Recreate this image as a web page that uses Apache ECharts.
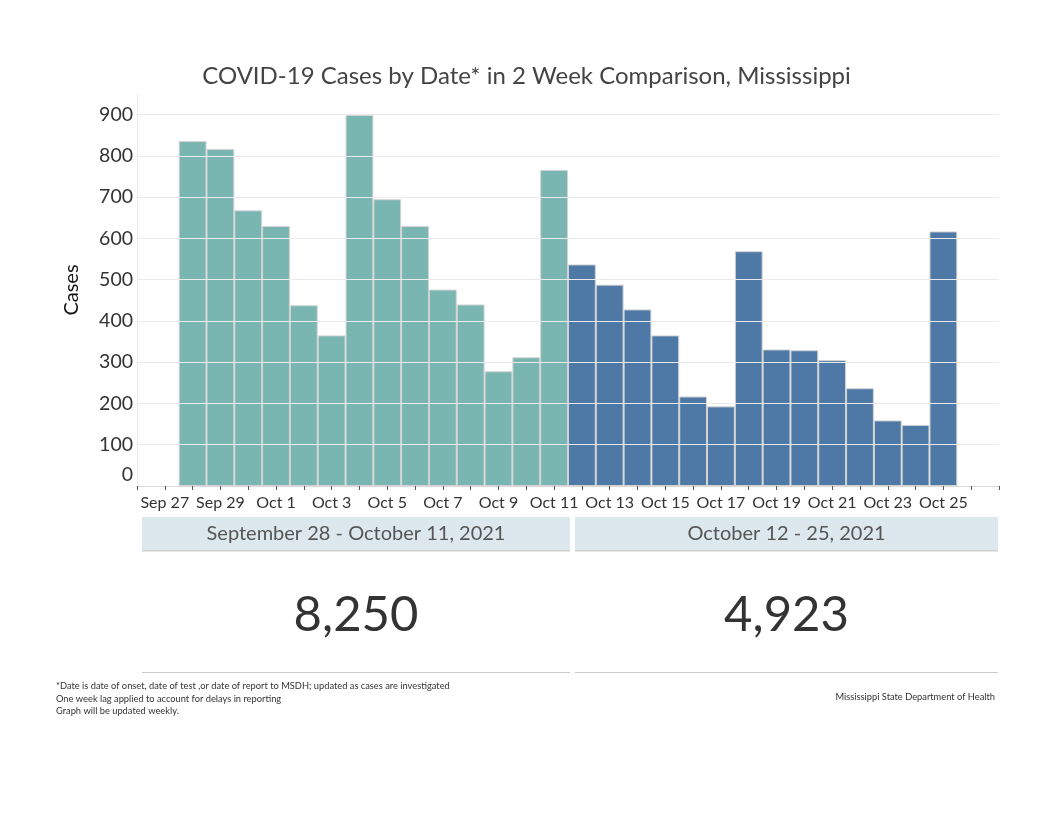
<!DOCTYPE html>
<html>
<head>
<meta charset="utf-8">
<script src="https://cdn.jsdelivr.net/npm/echarts@6/dist/echarts.min.js"></script>
<style>
html,body{margin:0;padding:0;background:#fff;}
#chart{width:1053px;height:813px;}
</style>
</head>
<body>
<div id="chart"></div>
<script>
// Axis categories (daily)
var categories = ['Sep 26','Sep 27','Sep 28','Sep 29','Sep 30','Oct 1','Oct 2','Oct 3','Oct 4','Oct 5','Oct 6','Oct 7','Oct 8','Oct 9','Oct 10','Oct 11','Oct 12','Oct 13','Oct 14','Oct 15','Oct 16','Oct 17','Oct 18','Oct 19','Oct 20','Oct 21','Oct 22','Oct 23','Oct 24','Oct 25','Oct 26','Oct 27'];
// Period 1: Sep 28 - Oct 11
var dates1 = ['Sep 28','Sep 29','Sep 30','Oct 1','Oct 2','Oct 3','Oct 4','Oct 5','Oct 6','Oct 7','Oct 8','Oct 9','Oct 10','Oct 11'];
var cases1 = [836, 817, 668, 630, 438, 365, 899, 695, 630, 476, 440, 278, 312, 766];
// Period 2: Oct 12 - Oct 25
var dates2 = ['Oct 12','Oct 13','Oct 14','Oct 15','Oct 16','Oct 17','Oct 18','Oct 19','Oct 20','Oct 21','Oct 22','Oct 23','Oct 24','Oct 25'];
var cases2 = [537, 488, 428, 365, 217, 193, 569, 331, 329, 305, 237, 159, 148, 617];
var yTicks = [100, 200, 300, 400, 500, 600, 700, 800, 900];
var periodLabels = ['September 28 - October 11, 2021', 'October 12 - 25, 2021'];

function sum(a){return a.reduce(function(s,v){return s+v;},0);}
function fmt(n){return n.toString().replace(/\B(?=(\d{3})+(?!\d))/g, ',');}
function toSeries(dates, vals){
  return categories.map(function(c){
    var i = dates.indexOf(c);
    return i >= 0 ? vals[i] : null;
  });
}

var FONT = 'Lato, "Open Sans", sans-serif';
var chart = echarts.init(document.getElementById('chart'), null, {renderer:'canvas'});

var graphics = [];
var panels = [{x:142, w:428}, {x:575, w:423}];
var totals = [sum(cases1), sum(cases2)];
panels.forEach(function(p, i){
  graphics.push({type:'rect', shape:{x:p.x, y:517, width:p.w, height:33}, style:{fill:'#dde8ee'}, silent:true});
  graphics.push({type:'rect', shape:{x:p.x, y:550, width:p.w, height:1.5}, style:{fill:'#cfcfcf'}, silent:true});
  graphics.push({type:'text', x:p.x + p.w/2, y:534, style:{text:periodLabels[i], fill:'#555', font:'20px ' + FONT, textAlign:'center', textVerticalAlign:'middle'}, silent:true});
  graphics.push({type:'text', x:p.x + p.w/2, y:615, style:{text:fmt(totals[i]), fill:'#333', font:'49px ' + FONT, textAlign:'center', textVerticalAlign:'middle'}, silent:true});
  graphics.push({type:'rect', shape:{x:p.x, y:672, width:p.w, height:1}, style:{fill:'#cccccc'}, silent:true});
});
graphics.push({type:'text', left:56, top:680, style:{text:'*Date is date of onset, date of test ,or date of report to MSDH; updated as cases are investigated\nOne week lag applied to account for delays in reporting\nGraph will be updated weekly.', fill:'#333', font:'9.3px ' + FONT, lineHeight:12.5}, silent:true});
graphics.push({type:'text', right:58, top:692, style:{text:'Mississippi State Department of Health', fill:'#333', font:'9.3px ' + FONT}, silent:true});

var option = {
  backgroundColor:'#fff',
  animation:false,
  title:{text:'COVID-19 Cases by Date* in 2 Week Comparison, Mississippi', left:'center', top:59,
    textStyle:{fontFamily:FONT, fontSize:24, fontWeight:'normal', color:'#444'}},
  grid:{left:137, right:54, top:94, bottom:327, containLabel:false},
  xAxis:{
    type:'category', data:categories, boundaryGap:false,
    axisLine:{show:true, lineStyle:{color:'#d9d9d9', width:1}},
    axisTick:{show:true, interval:0, length:4, lineStyle:{color:'#555'}},
    axisLabel:{interval:function(idx){return idx % 2 === 1 && idx < 30;}, color:'#333', fontFamily:FONT, fontSize:16, margin:9},
    splitLine:{show:false}
  },
  yAxis:{
    type:'value', min:0, max:950, interval:100,
    name:'Cases', nameLocation:'middle', nameGap:55, nameRotate:90,
    nameTextStyle:{fontFamily:FONT, fontSize:20, color:'#111'},
    axisLine:{show:true, lineStyle:{color:'#ececec'}},
    axisTick:{show:false},
    splitLine:{show:false},
    axisLabel:{color:'#333', fontFamily:FONT, fontSize:19.5, margin:4,
      formatter:function(v){ if(v===950) return ''; if(v===0) return '{z|0}'; return v; },
      rich:{z:{fontFamily:FONT, fontSize:19.5, color:'#333', padding:[0,0,22,0]}}}
  },
  series:[
    {type:'line', name:'grid', data:[], z:0, silent:true,
      markLine:{silent:true, symbol:'none', label:{show:false}, lineStyle:{color:'#ebebeb', type:'solid', width:1},
        data:yTicks.map(function(t){return {yAxis:t};})}},
    {type:'bar', name:'Sep 28 - Oct 11', data:toSeries(dates1, cases1), barCategoryGap:'0%', barGap:'-100%',
      itemStyle:{color:'#79b6b2', borderColor:'#d3d3d3', borderWidth:1}, z:2},
    {type:'bar', name:'Oct 12 - Oct 25', data:toSeries(dates2, cases2), barCategoryGap:'0%', barGap:'-100%',
      itemStyle:{color:'#4e79a7', borderColor:'#d3d3d3', borderWidth:1}, z:3}
  ],
  graphic:graphics
};
chart.setOption(option);
</script>
</body>
</html>
